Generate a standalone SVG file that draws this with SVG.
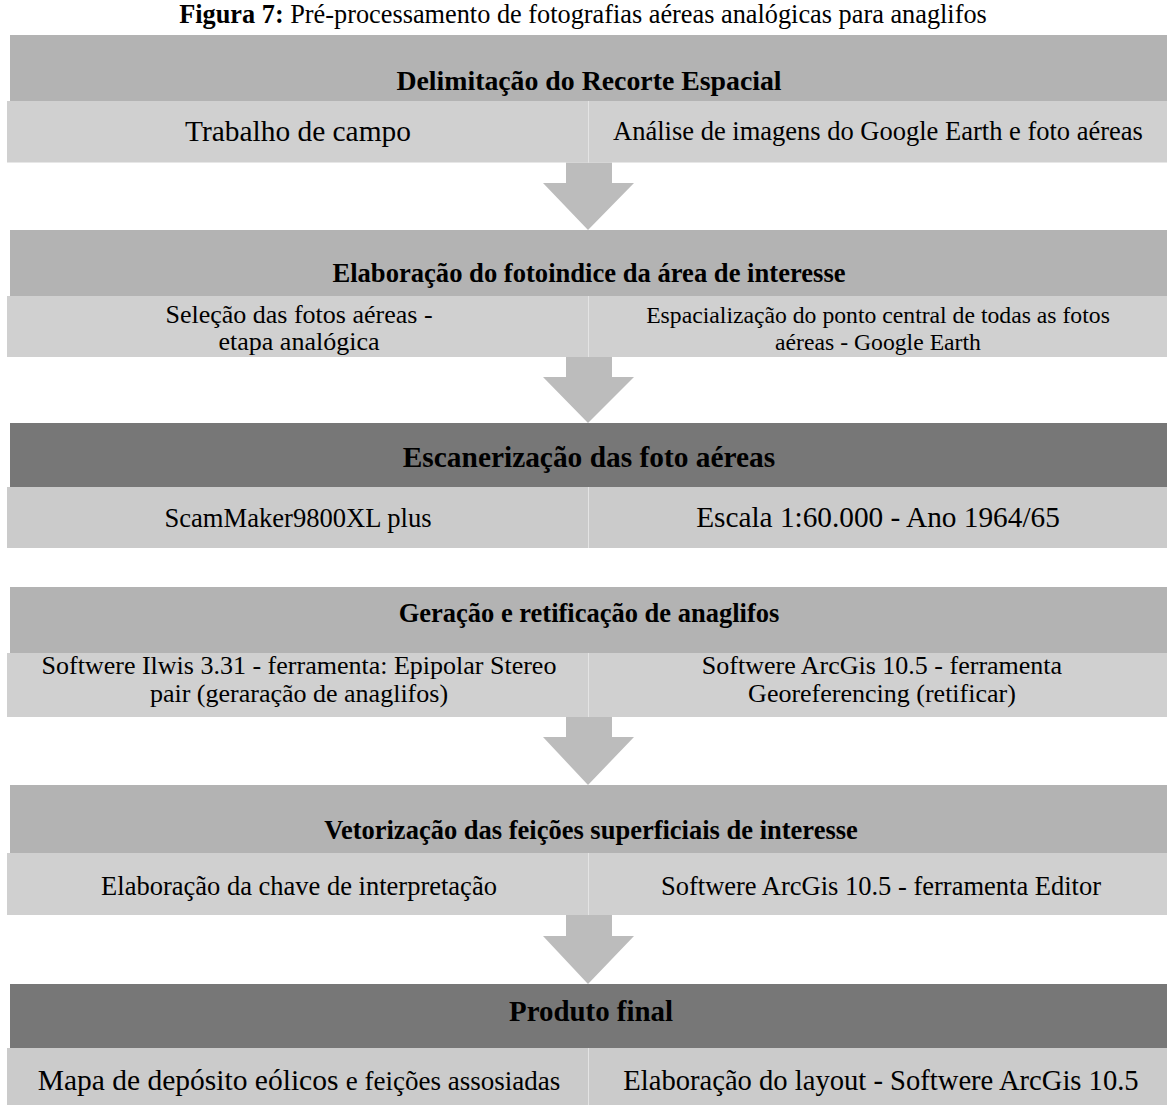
<svg xmlns="http://www.w3.org/2000/svg" width="1167" height="1105" viewBox="0 0 1167 1105">
<defs>
<style>
.band{fill:#b3b3b3}
.dark{fill:#777777}
.cell{fill:#d0d0d0}
.cellb{fill:#cbcbcb}
.div{fill:#e4e4e4}
.arrow{fill:#bcbcbc}
text{font-family:"Liberation Serif","Times New Roman",serif;fill:#000;text-anchor:middle}
.h{font-weight:bold}
</style>
</defs>
<rect width="1167" height="1105" fill="#ffffff"/>
<text id="title" x="583" y="22.5" font-size="26.3"><tspan font-weight="bold">Figura 7:</tspan> Pré-processamento de fotografias aéreas analógicas para anaglifos</text>

<g id="connectors">
<path class="arrow" d="M566,162.5 H612 V183 H634 L588,230 L543,183 H566 Z"/>
<path class="arrow" d="M566,357 H612 V377 H634 L588,423 L543,377 H566 Z"/>
<path class="arrow" d="M566,717 H612 V737 H634 L588,785 L543,737 H566 Z"/>
<path class="arrow" d="M566,915 H612 V936 H634 L588,984 L543,936 H566 Z"/>
</g>

<g id="step1">
<rect class="band" x="10" y="35" width="1157" height="66"/>
<text class="h" x="589" y="90" font-size="27.8">Delimitação do Recorte Espacial</text>
<rect class="cell" x="7" y="101" width="581" height="61.5"/>
<rect class="div" x="588" y="101" width="1" height="61.5"/>
<rect class="cell" x="589" y="101" width="578" height="61.5"/>
<text x="298" y="141" font-size="29.4">Trabalho de campo</text>
<text x="878" y="140" font-size="26.5">Análise de imagens do Google Earth e foto aéreas</text>
</g>

<g id="step2">
<rect class="band" x="10" y="230" width="1157" height="66"/>
<text class="h" x="589" y="282" font-size="26.6">Elaboração do fotoindice da área de interesse</text>
<rect class="cell" x="7" y="296" width="581" height="61"/>
<rect class="div" x="588" y="296" width="1" height="61"/>
<rect class="cell" x="589" y="296" width="578" height="61"/>
<text x="299" y="323" font-size="26">Seleção das fotos aéreas -</text>
<text x="299" y="350" font-size="26">etapa analógica</text>
<text x="878" y="323" font-size="23.7">Espacialização do ponto central de todas as fotos</text>
<text x="878" y="350" font-size="23.7">aéreas - Google Earth</text>
</g>

<g id="step3">
<rect class="dark" x="10" y="423" width="1157" height="64"/>
<text class="h" x="589" y="467" font-size="29.4">Escanerização das foto aéreas</text>
<rect class="cellb" x="7" y="487" width="581" height="61"/>
<rect class="div" x="588" y="487" width="1" height="61"/>
<rect class="cellb" x="589" y="487" width="578" height="61"/>
<text x="298" y="527" font-size="26.6">ScamMaker9800XL plus</text>
<text x="878" y="527" font-size="29.3">Escala 1:60.000 - Ano 1964/65</text>
</g>

<g id="step4">
<rect class="band" x="10" y="587" width="1157" height="66"/>
<text class="h" x="589" y="622" font-size="26.5">Geração e retificação de anaglifos</text>
<rect class="cell" x="7" y="653" width="581" height="64"/>
<rect class="div" x="588" y="653" width="1" height="64"/>
<rect class="cell" x="589" y="653" width="578" height="64"/>
<text x="299" y="674" font-size="26">Softwere Ilwis 3.31 - ferramenta: Epipolar Stereo</text>
<text x="299" y="702" font-size="26">pair (geraração de anaglifos)</text>
<text x="882" y="674" font-size="26">Softwere ArcGis 10.5 - ferramenta</text>
<text x="882" y="702" font-size="26">Georeferencing (retificar)</text>
</g>

<g id="step5">
<rect class="band" x="10" y="785" width="1157" height="68"/>
<text class="h" x="591" y="839" font-size="26.5">Vetorização das feições superficiais de interesse</text>
<rect class="cell" x="7" y="853" width="581" height="62"/>
<rect class="div" x="588" y="853" width="1" height="62"/>
<rect class="cell" x="589" y="853" width="578" height="62"/>
<text x="299" y="895" font-size="26.5">Elaboração da chave de interpretação</text>
<text x="881" y="895" font-size="26.5">Softwere ArcGis 10.5 - ferramenta Editor</text>
</g>

<g id="step6">
<rect class="dark" x="10" y="984" width="1157" height="64"/>
<text class="h" x="591" y="1021" font-size="28.9">Produto final</text>
<rect class="cellb" x="7" y="1048" width="581" height="57"/>
<rect class="div" x="588" y="1048" width="1" height="57"/>
<rect class="cellb" x="589" y="1048" width="578" height="57"/>
<text x="299" y="1090" font-size="29.5">Mapa de depósito eólicos <tspan font-size="27">e feições assosiadas</tspan></text>
<text x="881" y="1090" font-size="28.6">Elaboração do layout - Softwere ArcGis 10.5</text>
</g>
</svg>
